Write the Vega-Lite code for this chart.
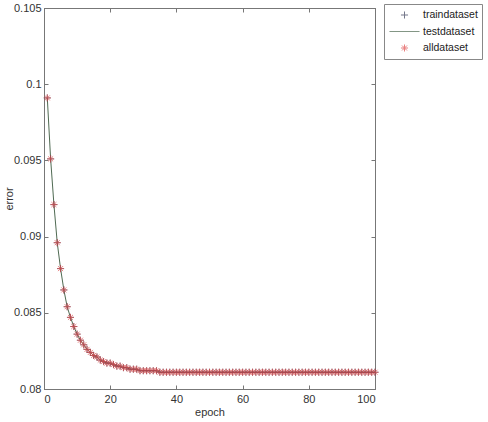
{
  "$schema": "https://vega.github.io/schema/vega-lite/v6.json",
  "autosize": {"type": "none"},
  "padding": {"left": 44, "top": 8, "right": 113, "bottom": 33},
  "width": 331,
  "height": 381,
  "background": "white",
  "config": {
    "view": {"stroke": "#777777", "strokeWidth": 1},
    "font": "Liberation Sans",
    "axis": {
      "labelFont": "Liberation Sans",
      "titleFont": "Liberation Sans",
      "labelFontSize": 11,
      "titleFontSize": 11,
      "titleFontWeight": "normal",
      "labelColor": "#333333",
      "titleColor": "#333333",
      "domainColor": "#777777",
      "tickColor": "#777777",
      "grid": false
    }
  },
  "data": {
    "values": [
      {"epoch": 1, "traindataset": 0.0991, "testdataset": 0.0991, "alldataset": 0.0991},
      {"epoch": 2, "traindataset": 0.0951, "testdataset": 0.0951, "alldataset": 0.0951},
      {"epoch": 3, "traindataset": 0.0921, "testdataset": 0.0921, "alldataset": 0.0921},
      {"epoch": 4, "traindataset": 0.0896, "testdataset": 0.0896, "alldataset": 0.0896},
      {"epoch": 5, "traindataset": 0.0879, "testdataset": 0.0879, "alldataset": 0.0879},
      {"epoch": 6, "traindataset": 0.0865, "testdataset": 0.0865, "alldataset": 0.0865},
      {"epoch": 7, "traindataset": 0.0854, "testdataset": 0.0854, "alldataset": 0.0854},
      {"epoch": 8, "traindataset": 0.0847, "testdataset": 0.0847, "alldataset": 0.0847},
      {"epoch": 9, "traindataset": 0.0841, "testdataset": 0.0841, "alldataset": 0.0841},
      {"epoch": 10, "traindataset": 0.0836, "testdataset": 0.0836, "alldataset": 0.0836},
      {"epoch": 11, "traindataset": 0.0832, "testdataset": 0.0832, "alldataset": 0.0832},
      {"epoch": 12, "traindataset": 0.0829, "testdataset": 0.0829, "alldataset": 0.0829},
      {"epoch": 13, "traindataset": 0.0826, "testdataset": 0.0826, "alldataset": 0.0826},
      {"epoch": 14, "traindataset": 0.0824, "testdataset": 0.0824, "alldataset": 0.0824},
      {"epoch": 15, "traindataset": 0.0822, "testdataset": 0.0822, "alldataset": 0.0822},
      {"epoch": 16, "traindataset": 0.0821, "testdataset": 0.0821, "alldataset": 0.0821},
      {"epoch": 17, "traindataset": 0.0819, "testdataset": 0.0819, "alldataset": 0.0819},
      {"epoch": 18, "traindataset": 0.0818, "testdataset": 0.0818, "alldataset": 0.0818},
      {"epoch": 19, "traindataset": 0.0817, "testdataset": 0.0817, "alldataset": 0.0817},
      {"epoch": 20, "traindataset": 0.0817, "testdataset": 0.0817, "alldataset": 0.0817},
      {"epoch": 21, "traindataset": 0.0816, "testdataset": 0.0816, "alldataset": 0.0816},
      {"epoch": 22, "traindataset": 0.0815, "testdataset": 0.0815, "alldataset": 0.0815},
      {"epoch": 23, "traindataset": 0.0815, "testdataset": 0.0815, "alldataset": 0.0815},
      {"epoch": 24, "traindataset": 0.0814, "testdataset": 0.0814, "alldataset": 0.0814},
      {"epoch": 25, "traindataset": 0.0814, "testdataset": 0.0814, "alldataset": 0.0814},
      {"epoch": 26, "traindataset": 0.0813, "testdataset": 0.0813, "alldataset": 0.0813},
      {"epoch": 27, "traindataset": 0.0813, "testdataset": 0.0813, "alldataset": 0.0813},
      {"epoch": 28, "traindataset": 0.0813, "testdataset": 0.0813, "alldataset": 0.0813},
      {"epoch": 29, "traindataset": 0.0812, "testdataset": 0.0812, "alldataset": 0.0812},
      {"epoch": 30, "traindataset": 0.0812, "testdataset": 0.0812, "alldataset": 0.0812},
      {"epoch": 31, "traindataset": 0.0812, "testdataset": 0.0812, "alldataset": 0.0812},
      {"epoch": 32, "traindataset": 0.0812, "testdataset": 0.0812, "alldataset": 0.0812},
      {"epoch": 33, "traindataset": 0.0812, "testdataset": 0.0812, "alldataset": 0.0812},
      {"epoch": 34, "traindataset": 0.0812, "testdataset": 0.0812, "alldataset": 0.0812},
      {"epoch": 35, "traindataset": 0.0811, "testdataset": 0.0811, "alldataset": 0.0811},
      {"epoch": 36, "traindataset": 0.0811, "testdataset": 0.0811, "alldataset": 0.0811},
      {"epoch": 37, "traindataset": 0.0811, "testdataset": 0.0811, "alldataset": 0.0811},
      {"epoch": 38, "traindataset": 0.0811, "testdataset": 0.0811, "alldataset": 0.0811},
      {"epoch": 39, "traindataset": 0.0811, "testdataset": 0.0811, "alldataset": 0.0811},
      {"epoch": 40, "traindataset": 0.0811, "testdataset": 0.0811, "alldataset": 0.0811},
      {"epoch": 41, "traindataset": 0.0811, "testdataset": 0.0811, "alldataset": 0.0811},
      {"epoch": 42, "traindataset": 0.0811, "testdataset": 0.0811, "alldataset": 0.0811},
      {"epoch": 43, "traindataset": 0.0811, "testdataset": 0.0811, "alldataset": 0.0811},
      {"epoch": 44, "traindataset": 0.0811, "testdataset": 0.0811, "alldataset": 0.0811},
      {"epoch": 45, "traindataset": 0.0811, "testdataset": 0.0811, "alldataset": 0.0811},
      {"epoch": 46, "traindataset": 0.0811, "testdataset": 0.0811, "alldataset": 0.0811},
      {"epoch": 47, "traindataset": 0.0811, "testdataset": 0.0811, "alldataset": 0.0811},
      {"epoch": 48, "traindataset": 0.0811, "testdataset": 0.0811, "alldataset": 0.0811},
      {"epoch": 49, "traindataset": 0.0811, "testdataset": 0.0811, "alldataset": 0.0811},
      {"epoch": 50, "traindataset": 0.0811, "testdataset": 0.0811, "alldataset": 0.0811},
      {"epoch": 51, "traindataset": 0.0811, "testdataset": 0.0811, "alldataset": 0.0811},
      {"epoch": 52, "traindataset": 0.0811, "testdataset": 0.0811, "alldataset": 0.0811},
      {"epoch": 53, "traindataset": 0.0811, "testdataset": 0.0811, "alldataset": 0.0811},
      {"epoch": 54, "traindataset": 0.0811, "testdataset": 0.0811, "alldataset": 0.0811},
      {"epoch": 55, "traindataset": 0.0811, "testdataset": 0.0811, "alldataset": 0.0811},
      {"epoch": 56, "traindataset": 0.0811, "testdataset": 0.0811, "alldataset": 0.0811},
      {"epoch": 57, "traindataset": 0.0811, "testdataset": 0.0811, "alldataset": 0.0811},
      {"epoch": 58, "traindataset": 0.0811, "testdataset": 0.0811, "alldataset": 0.0811},
      {"epoch": 59, "traindataset": 0.0811, "testdataset": 0.0811, "alldataset": 0.0811},
      {"epoch": 60, "traindataset": 0.0811, "testdataset": 0.0811, "alldataset": 0.0811},
      {"epoch": 61, "traindataset": 0.0811, "testdataset": 0.0811, "alldataset": 0.0811},
      {"epoch": 62, "traindataset": 0.0811, "testdataset": 0.0811, "alldataset": 0.0811},
      {"epoch": 63, "traindataset": 0.0811, "testdataset": 0.0811, "alldataset": 0.0811},
      {"epoch": 64, "traindataset": 0.0811, "testdataset": 0.0811, "alldataset": 0.0811},
      {"epoch": 65, "traindataset": 0.0811, "testdataset": 0.0811, "alldataset": 0.0811},
      {"epoch": 66, "traindataset": 0.0811, "testdataset": 0.0811, "alldataset": 0.0811},
      {"epoch": 67, "traindataset": 0.0811, "testdataset": 0.0811, "alldataset": 0.0811},
      {"epoch": 68, "traindataset": 0.0811, "testdataset": 0.0811, "alldataset": 0.0811},
      {"epoch": 69, "traindataset": 0.0811, "testdataset": 0.0811, "alldataset": 0.0811},
      {"epoch": 70, "traindataset": 0.0811, "testdataset": 0.0811, "alldataset": 0.0811},
      {"epoch": 71, "traindataset": 0.0811, "testdataset": 0.0811, "alldataset": 0.0811},
      {"epoch": 72, "traindataset": 0.0811, "testdataset": 0.0811, "alldataset": 0.0811},
      {"epoch": 73, "traindataset": 0.0811, "testdataset": 0.0811, "alldataset": 0.0811},
      {"epoch": 74, "traindataset": 0.0811, "testdataset": 0.0811, "alldataset": 0.0811},
      {"epoch": 75, "traindataset": 0.0811, "testdataset": 0.0811, "alldataset": 0.0811},
      {"epoch": 76, "traindataset": 0.0811, "testdataset": 0.0811, "alldataset": 0.0811},
      {"epoch": 77, "traindataset": 0.0811, "testdataset": 0.0811, "alldataset": 0.0811},
      {"epoch": 78, "traindataset": 0.0811, "testdataset": 0.0811, "alldataset": 0.0811},
      {"epoch": 79, "traindataset": 0.0811, "testdataset": 0.0811, "alldataset": 0.0811},
      {"epoch": 80, "traindataset": 0.0811, "testdataset": 0.0811, "alldataset": 0.0811},
      {"epoch": 81, "traindataset": 0.0811, "testdataset": 0.0811, "alldataset": 0.0811},
      {"epoch": 82, "traindataset": 0.0811, "testdataset": 0.0811, "alldataset": 0.0811},
      {"epoch": 83, "traindataset": 0.0811, "testdataset": 0.0811, "alldataset": 0.0811},
      {"epoch": 84, "traindataset": 0.0811, "testdataset": 0.0811, "alldataset": 0.0811},
      {"epoch": 85, "traindataset": 0.0811, "testdataset": 0.0811, "alldataset": 0.0811},
      {"epoch": 86, "traindataset": 0.0811, "testdataset": 0.0811, "alldataset": 0.0811},
      {"epoch": 87, "traindataset": 0.0811, "testdataset": 0.0811, "alldataset": 0.0811},
      {"epoch": 88, "traindataset": 0.0811, "testdataset": 0.0811, "alldataset": 0.0811},
      {"epoch": 89, "traindataset": 0.0811, "testdataset": 0.0811, "alldataset": 0.0811},
      {"epoch": 90, "traindataset": 0.0811, "testdataset": 0.0811, "alldataset": 0.0811},
      {"epoch": 91, "traindataset": 0.0811, "testdataset": 0.0811, "alldataset": 0.0811},
      {"epoch": 92, "traindataset": 0.0811, "testdataset": 0.0811, "alldataset": 0.0811},
      {"epoch": 93, "traindataset": 0.0811, "testdataset": 0.0811, "alldataset": 0.0811},
      {"epoch": 94, "traindataset": 0.0811, "testdataset": 0.0811, "alldataset": 0.0811},
      {"epoch": 95, "traindataset": 0.0811, "testdataset": 0.0811, "alldataset": 0.0811},
      {"epoch": 96, "traindataset": 0.0811, "testdataset": 0.0811, "alldataset": 0.0811},
      {"epoch": 97, "traindataset": 0.0811, "testdataset": 0.0811, "alldataset": 0.0811},
      {"epoch": 98, "traindataset": 0.0811, "testdataset": 0.0811, "alldataset": 0.0811},
      {"epoch": 99, "traindataset": 0.0811, "testdataset": 0.0811, "alldataset": 0.0811},
      {"epoch": 100, "traindataset": 0.0811, "testdataset": 0.0811, "alldataset": 0.0811}
    ]
  },
  "transform": [
    {"fold": ["traindataset", "testdataset", "alldataset"], "as": ["series", "error"]}
  ],
  "resolve": {"axis": {"x": "independent", "y": "independent"}},
  "layer": [
    {
      "transform": [{"filter": "datum.series === 'testdataset'"}],
      "mark": {"type": "line", "strokeWidth": 1},
      "encoding": {
        "x": {"field": "epoch", "type": "quantitative", "scale": {"domain": [0, 100], "nice": false},
              "axis": {"title": "epoch", "values": [0, 20, 40, 60, 80, 100], "tickSize": -4, "labelPadding": 8, "titlePadding": 2}},
        "y": {"field": "error", "type": "quantitative", "scale": {"domain": [0.08, 0.105], "nice": false, "zero": false},
              "axis": {"title": "error", "values": [0.08, 0.085, 0.09, 0.095, 0.1, 0.105], "format": ".3~f", "labelFlush": false, "labelOverlap": false, "tickSize": -4, "labelPadding": 7, "titlePadding": -1}},
        "color": {"field": "series", "type": "nominal"}
      }
    },
    {
      "transform": [{"filter": "datum.series !== 'testdataset'"}],
      "mark": {"type": "point", "filled": false, "strokeWidth": 1, "size": 1024},
      "encoding": {
        "x": {"field": "epoch", "type": "quantitative",
              "axis": {"orient": "top", "title": null, "labels": false, "values": [0, 20, 40, 60, 80, 100], "tickSize": -4}},
        "y": {"field": "error", "type": "quantitative",
              "axis": {"orient": "right", "title": null, "labels": false, "values": [0.08, 0.085, 0.09, 0.095, 0.1, 0.105], "tickSize": -4}},
        "color": {"field": "series", "type": "nominal",
                  "scale": {"domain": ["traindataset", "testdataset", "alldataset"], "range": ["#3a3f5a", "#4f6a52", "#e04a4a"]},
                  "legend": {"title": null, "orient": "none", "legendX": 340, "legendY": -4, "padding": 4, "strokeColor": "#888888",
                             "labelFontSize": 10.5, "labelFont": "Liberation Sans", "labelColor": "#222222", "rowPadding": 2.5,
                             "clipHeight": 14, "symbolSize": 1024, "symbolStrokeWidth": 1, "labelOffset": 2, "labelLimit": 60}},
        "shape": {"field": "series", "type": "nominal",
                  "scale": {"domain": ["traindataset", "testdataset", "alldataset"],
                            "range": ["M-0.22,0H0.22M0,-0.22V0.22", "M-0.94,0H0.94", "M-0.22,0H0.22M0,-0.22V0.22M-0.155,-0.155L0.155,0.155M-0.155,0.155L0.155,-0.155"]}}
      }
    }
  ]
}
